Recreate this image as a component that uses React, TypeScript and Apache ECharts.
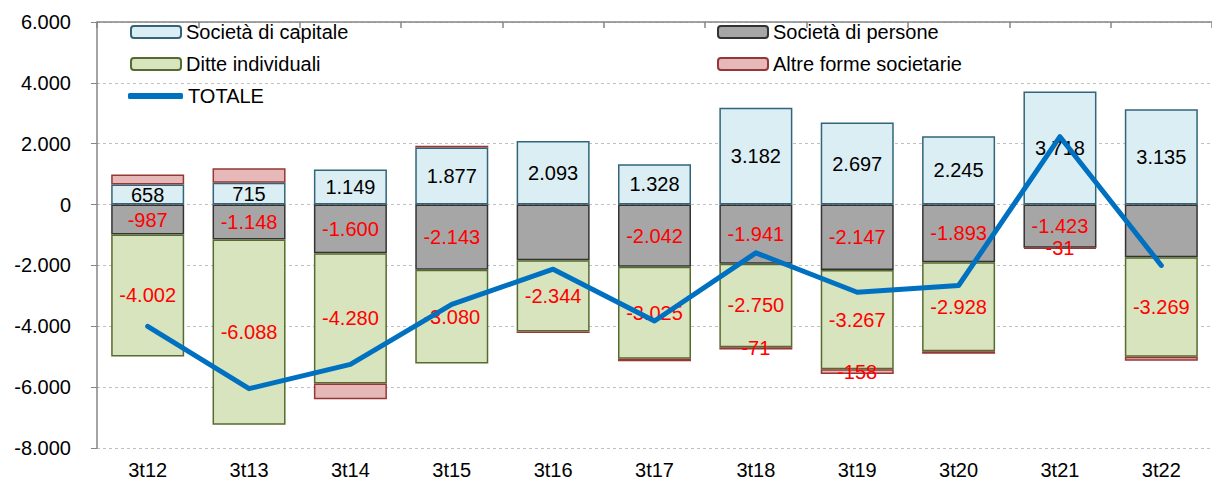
import React, { useEffect, useRef } from "react";
import * as echarts from "echarts";

const categories = ["3t12", "3t13", "3t14", "3t15", "3t16", "3t17", "3t18", "3t19", "3t20", "3t21", "3t22"];
const capitale = [658, 715, 1149, 1877, 2093, 1328, 3182, 2697, 2245, 3718, 3135];
const persone = [-987, -1148, -1600, -2143, -1830, -2042, -1941, -2147, -1893, -1423, -1730];
const ditte = [-4002, -6088, -4280, -3080, -2344, -3025, -2750, -3267, -2928, null, -3269];
const altre = [330, 480, -520, 60, -50, -80, -71, -158, -80, -31, -130];
const totale = [-4001, -6050, -5250, -3280, -2125, -3825, -1585, -2880, -2660, 2230, -2000];
const yTicks = [-8000, -6000, -4000, -2000, 0, 2000, 4000, 6000];

const personeHiddenLabels = [4, 10];
const altreShownLabels = [6, 7, 9];

const FONT = "Liberation Sans";
const FS = 20;

function fmt(v: number): string {
  const neg = v < 0;
  const s = Math.round(Math.abs(v)).toString().replace(/\B(?=(\d{3})+(?!\d))/g, ".");
  return (neg ? "-" : "") + s;
}

export default function App() {
  const ref = useRef<HTMLDivElement>(null);
  useEffect(() => {
    if (!ref.current) return;
    const chart = echarts.init(ref.current, undefined, { renderer: "svg" });
    const labelBase = {
      fontFamily: FONT,
      fontSize: FS,
      formatter: (p: any) => fmt(p.value),
    };
    const legendCommon = {
      itemWidth: 50,
      itemHeight: 12,
      itemGap: 0,
      textStyle: { fontFamily: FONT, fontSize: FS, color: "#000" },
      padding: 0,
    };
    chart.setOption({
      animation: false,
      grid: { left: 97, top: 22, bottom: 40, right: -17, containLabel: false },
      legend: [
        { ...legendCommon, left: 130, top: 22, data: ["Società di capitale"] },
        { ...legendCommon, left: 717, top: 22, data: ["Società di persone"] },
        { ...legendCommon, left: 130, top: 54, data: ["Ditte individuali"] },
        { ...legendCommon, left: 717, top: 54, data: ["Altre forme societarie"] },
        {
          ...legendCommon,
          left: 128,
          top: 86,
          itemHeight: 6,
          itemWidth: 55,
          data: [{ name: "TOTALE", icon: "roundRect", itemStyle: { color: "#0070c0", borderWidth: 0 } }],
        },
      ],
      xAxis: [
        {
          type: "category",
          data: categories,
          position: "bottom",
          axisLine: { show: false },
          axisTick: { show: false },
          axisLabel: { fontFamily: FONT, fontSize: FS, color: "#000", margin: 12 },
        },
        {
          type: "category",
          data: categories,
          position: "top",
          axisLine: { show: true, onZero: true, lineStyle: { color: "#868686", width: 1.5 } },
          axisTick: { show: true, inside: true, length: 6, lineStyle: { color: "#868686", width: 1.5 } },
          axisLabel: { show: false },
        },
      ],
      yAxis: {
        type: "value",
        min: -8000,
        max: 6000,
        interval: 2000,
        axisLine: { show: true, lineStyle: { color: "#868686", width: 1.5 } },
        axisTick: { show: true, length: 6, lineStyle: { color: "#868686" } },
        axisLabel: {
          fontFamily: FONT,
          fontSize: FS,
          color: "#000",
          margin: 26,
          formatter: (v: number) => (yTicks.includes(v) ? fmt(v) : ""),
        },
        splitLine: { show: true, lineStyle: { color: "#bfbfbf", type: [3, 3], width: 1 } },
      },
      series: [
        {
          name: "Società di capitale",
          type: "bar",
          stack: "s",
          barWidth: 73,
          data: capitale,
          itemStyle: { color: "#dbeef4", borderColor: "#31657a", borderWidth: 1.5 },
          label: { ...labelBase, show: true, position: "inside", color: "#000" },
        },
        {
          name: "Società di persone",
          type: "bar",
          stack: "s",
          barWidth: 73,
          data: persone.map((v, i) => ({ value: v, label: { show: !personeHiddenLabels.includes(i) } })),
          itemStyle: { color: "#a6a6a6", borderColor: "#333333", borderWidth: 1.5 },
          label: { ...labelBase, show: true, position: "inside", color: "#ff0000" },
        },
        {
          name: "Ditte individuali",
          type: "bar",
          stack: "s",
          barWidth: 73,
          data: ditte,
          itemStyle: { color: "#d7e4bd", borderColor: "#566b2f", borderWidth: 1.5 },
          label: { ...labelBase, show: true, position: "inside", color: "#ff0000" },
        },
        {
          name: "Altre forme societarie",
          type: "bar",
          stack: "s",
          barWidth: 73,
          data: altre.map((v, i) => ({ value: v, label: { show: altreShownLabels.includes(i) } })),
          itemStyle: { color: "#e6b9b8", borderColor: "#953735", borderWidth: 1.5 },
          label: { ...labelBase, show: true, position: "inside", color: "#ff0000" },
        },
        {
          name: "TOTALE",
          type: "line",
          data: totale,
          symbol: "none",
          z: 5,
          lineStyle: { color: "#0070c0", width: 5, cap: "round", join: "round" },
          itemStyle: { color: "#0070c0" },
        },
      ],
    });
    return () => chart.dispose();
  }, []);
  return (
    <div
      ref={ref}
      style={{ position: "absolute", left: 0, top: 0, width: 1212, height: 488, background: "#fff" }}
    />
  );
}
